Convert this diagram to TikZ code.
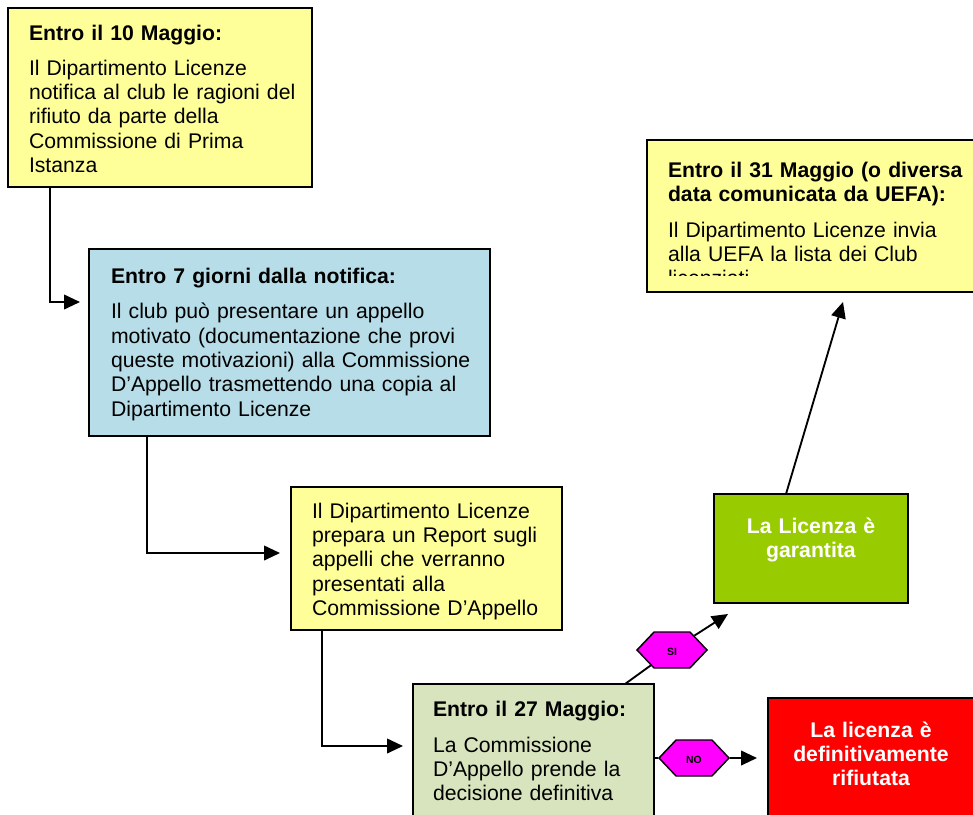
\documentclass[tikz,border=0pt]{standalone}
\usepackage{fontspec}
\setmainfont{Liberation Sans}
\usetikzlibrary{arrows.meta,shapes.symbols,calc}
\definecolor{yellowc}{HTML}{FFFF99}
\definecolor{bluec}{HTML}{B7DDE8}
\definecolor{lgreenc}{HTML}{D7E4BD}
\definecolor{greenc}{HTML}{99CC00}
\definecolor{redc}{HTML}{FF0000}
\definecolor{magc}{HTML}{FF00FF}
\tikzset{
  box/.style={draw=black, line width=1.4pt, rectangle, anchor=north west, inner sep=0pt, outer sep=0pt},
  txt/.style={anchor=base west, inner sep=0pt, outer sep=0pt, text width=320pt, align=left,
    font=\fontsize{15.9pt}{18.3pt}\selectfont},
  ctxt/.style={anchor=base, inner sep=0pt, outer sep=0pt, text width=160pt, align=center,
    font=\fontsize{15.9pt}{18.1pt}\selectfont\bfseries, text=white},
  hexa/.style={shape=signal, signal to=east and west, signal pointer angle=93,
    draw=black, line width=1.1pt, fill=magc, minimum width=52.5pt, minimum height=27pt,
    inner sep=0pt, font=\fontsize{7.8pt}{9pt}\selectfont\bfseries},
  conn/.style={draw=black, line width=1.4pt},
  arr/.style={conn, -{Triangle[length=12pt,width=11pt]}}
}
\begin{document}
\begin{tikzpicture}[x=0.75pt,y=-0.75pt]
\useasboundingbox (0,0) rectangle (973,814);
% boxes
\node[box, fill=yellowc, minimum width=228pt, minimum height=134.25pt] (b1) at (8,8) {};
\node[box, fill=bluec, minimum width=300.75pt, minimum height=140.25pt] (b2) at (89,249) {};
\node[box, fill=yellowc, minimum width=203.25pt, minimum height=107.25pt] (b3) at (291,487) {};
\node[box, fill=lgreenc, minimum width=180.75pt, minimum height=112.5pt] (b4) at (413,684) {};
\node[box, fill=greenc, minimum width=145.5pt, minimum height=81.75pt] (b5) at (714,494) {};
\node[box, fill=redc, minimum width=165pt, minimum height=105pt] (b6) at (768,698) {};
\node[box, fill=yellowc, minimum width=255pt, minimum height=114pt] (b7) at (647,140) {};
% texts
\node[txt] (t1) at (29,40) {\textbf{Entro il 10 Maggio:}\\[8pt]Il Dipartimento Licenze\\notifica al club le ragioni del\\rifiuto da parte della\\Commissione di Prima\\Istanza};
\node[txt] (t2) at (111,283) {\textbf{Entro 7 giorni dalla notifica:}\\[8.5pt]Il club può presentare un appello\\motivato (documentazione che provi\\queste motivazioni) alla Commissione\\D’Appello trasmettendo una copia al\\Dipartimento Licenze};
\node[txt] (t3) at (312,518) {Il Dipartimento Licenze\\prepara un Report sugli\\appelli che verranno\\presentati alla\\Commissione D’Appello};
\node[txt] (t4) at (433,716) {\textbf{Entro il 27 Maggio:}\\[8.8pt]La Commissione\\D’Appello prende la\\decisione definitiva};
\node[ctxt] (t5) at (811,533) {La Licenza è\\garantita};
\node[ctxt] (t6) at (871,737) {La licenza è\\definitivamente\\rifiutata};
\begin{scope}
\clip (647,140) rectangle (973,275);
\node[txt] (t7) at (668,177) {\textbf{Entro il 31 Maggio (o diversa}\\\textbf{data comunicata da UEFA):}\\[8.5pt]Il Dipartimento Licenze invia\\alla UEFA la lista dei Club\\licenziati};
\end{scope}
% connector coordinates
\coordinate (a1e) at (80,302);
\coordinate (a2e) at (280,553);
\coordinate (a3e) at (403,746);
\coordinate (siend) at (728,614);
\coordinate (noend) at (757,758);
\coordinate (upend) at (843,302);
% hexagons
\node[hexa] (si) at (672,650) {\raisebox{-4.4pt}[0pt][0pt]{SI}};
\node[hexa] (no) at (694,758) {\raisebox{-4pt}[0pt][0pt]{NO}};
% connectors
\draw[arr] ($(b1.south west)+(42,0)$) |- (a1e);
\draw[arr] ($(b2.south west)+(58,0)$) |- (a2e);
\draw[arr] ($(b3.south west)+(31,0)$) |- (a3e);
\draw[conn] ($(b4.north west)+(212,0)$) -- (si);
\draw[arr] (si) -- (siend);
\draw[conn] (b4.east |- no.west) -- (no.west);
\draw[arr] (no.east) -- (noend);
\draw[arr] ($(b5.north west)+(72,0)$) -- (upend);
\end{tikzpicture}
\end{document}
